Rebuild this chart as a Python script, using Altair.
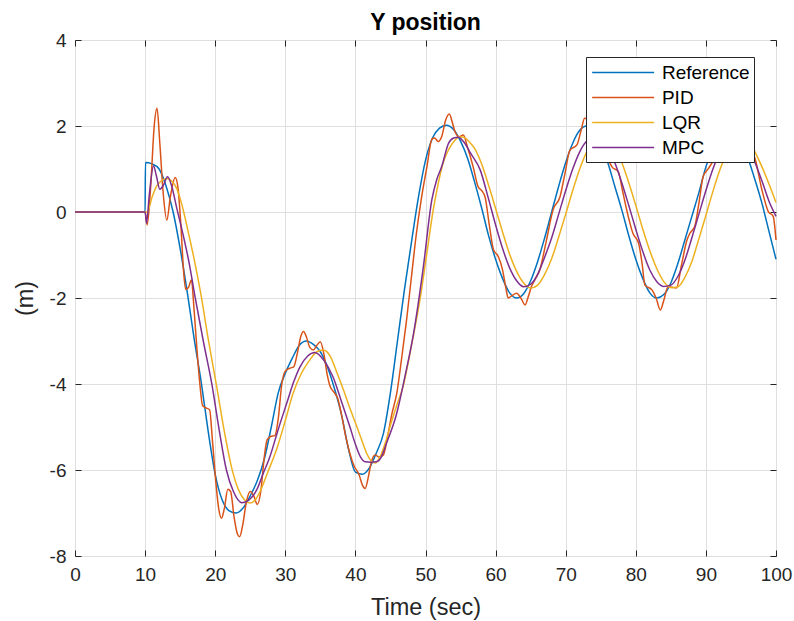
import altair as alt
import pandas as pd

# ---------------- data ----------------
series_names = ["Reference", "PID", "LQR", "MPC"]
series_colors = ["#0072BD", "#D95319", "#EDB120", "#7E2F8E"]
x_ticks = [0, 10, 20, 30, 40, 50, 60, 70, 80, 90, 100]
y_ticks = [-8, -6, -4, -2, 0, 2, 4]

ref_t = [0, 10, 10.05, 11, 12, 13, 14, 15, 16, 17, 18, 19, 20, 21, 22, 23, 24, 25,
         26, 27, 28, 29, 30, 31, 32, 33, 34, 35, 36, 37, 38, 39, 40, 41, 42, 43, 44,
         45, 46, 47, 48, 49, 50, 51, 52, 53, 54, 55, 56, 57, 58, 59, 60, 61, 62, 63,
         64, 65, 66, 67, 68, 69, 70, 71, 72, 73, 74, 75, 76, 77, 78, 79, 80, 81, 82,
         83, 84, 85, 86, 87, 88, 89, 90, 91, 92, 93, 94, 95, 96, 97, 98, 99, 100]
ref_y = [0, 0, 1.15, 1.12, 1.0, 0.6, 0.0, -0.85, -1.85, -2.95, -3.95, -5.1, -6.1, -6.7,
         -6.95, -7.0, -6.88, -6.6, -6.25, -5.75, -5.0, -4.2, -3.75, -3.4, -3.1, -3.0,
         -3.08, -3.25, -3.6, -4.1, -4.7, -5.5, -6.05, -6.1, -5.95, -5.6, -5.15, -4.2,
         -3.0, -1.8, -0.7, 0.35, 1.2, 1.72, 1.95, 2.02, 1.92, 1.65, 1.25, 0.7, 0.1,
         -0.55, -1.1, -1.55, -1.88, -2.0, -1.9, -1.6, -1.15, -0.6, 0.0, 0.6, 1.15, 1.6,
         1.9, 2.0, 1.9, 1.6, 1.15, 0.6, 0.05, -0.55, -1.1, -1.55, -1.88, -2.0, -1.92,
         -1.65, -1.2, -0.65, -0.1, 0.45, 1.05, 1.5, 1.85, 2.0, 1.92, 1.65, 1.25, 0.75,
         0.2, -0.45, -1.1]

pid_t = [0, 10, 10.3, 10.8, 11.3, 11.7, 12.1, 12.6, 13.1, 13.6, 14.3, 14.7, 15.1, 15.5,
         15.8, 16.2, 16.6, 17.0, 17.4, 17.8, 18.2, 18.6, 19.2, 19.6, 20.1, 20.5, 20.9,
         21.3, 21.8, 22.2, 22.7, 23.2, 23.5, 23.9, 24.5, 25.0, 25.5, 26.0, 26.5, 27.0,
         27.4, 27.9, 28.5, 29.0, 29.5, 30.0, 30.7, 31.2, 31.7, 32.2, 32.6, 33.0, 33.5,
         34.0, 34.5, 35.0, 35.5, 36.0, 36.4, 37.0, 37.5, 38.0, 38.6, 39.2, 39.8, 40.5,
         41.0, 41.4, 41.8, 42.3, 42.8, 43.4, 44.0, 44.5, 45.2, 45.9, 46.6, 47.3, 48.0,
         48.7, 49.4, 50.2, 50.9, 51.3, 51.8, 52.3, 52.9, 53.4, 53.8, 54.2, 54.8, 55.4,
         56.0, 56.8, 57.5, 58.0, 58.5, 59.1, 59.7, 60.4, 61.0, 61.5, 61.8, 62.3, 63.0,
         63.6, 64.2, 64.7, 65.1, 65.7, 66.3, 67.2, 68.2, 69.2, 69.9, 70.6, 71.6, 72.2,
         72.7, 73.2, 74.0, 75.0, 76.0, 76.6, 77.5, 78.1, 78.7, 79.6, 80.4, 80.9, 81.3,
         82.3, 82.9, 83.5, 84.0, 84.6, 85.2, 85.8, 86.5, 87.3, 87.7, 88.4, 89.0, 89.6,
         90.4, 91.1, 92.0, 93.0, 94.0, 95.0, 96.0, 97.0, 98.0, 98.9, 99.6, 100]
pid_y = [0, 0, -0.3, 0.6, 2.0, 2.41, 1.6, 0.4, -0.19, 0.35, 0.8, 0.55, -0.3, -1.4,
         -1.8, -1.75, -1.58, -2.3, -3.2, -3.98, -4.5, -4.55, -4.6, -5.3, -6.3, -6.9,
         -7.12, -6.9, -6.45, -6.5, -7.1, -7.5, -7.55, -7.3, -6.7, -6.5, -6.6, -6.8,
         -6.5, -5.7, -5.3, -5.22, -5.2, -4.8, -4.0, -3.7, -3.63, -3.6, -3.3, -2.9,
         -2.78, -2.9, -3.15, -3.21, -3.1, -3.02, -3.3, -3.8, -4.06, -4.2, -4.35, -4.7,
         -5.2, -5.61, -5.9, -6.1, -6.35, -6.43, -6.2, -5.8, -5.65, -5.7, -5.65, -5.3,
         -4.7, -4.22, -3.4, -2.51, -1.5, -0.5, 0.3, 1.05, 1.69, 1.72, 1.64, 1.75, 2.15,
         2.28, 2.1, 1.87, 1.75, 1.79, 1.5, 1.05, 0.59, 0.5, 0.35, -0.3, -0.88, -1.04,
         -1.35, -1.8, -2.0, -1.95, -1.89, -2.0, -2.16, -1.95, -1.74, -1.55, -1.35, -0.7,
         0.05, 0.36, 0.9, 1.44, 1.56, 1.9, 2.18, 2.15, 1.9, 1.6, 1.25, 1.05, 0.94, 0.5,
         0.05, -0.5, -0.73, -1.2, -1.7, -1.81, -2.0, -2.28, -2.05, -1.74, -1.75, -1.77,
         -1.25, -0.65, -0.5, -0.34, 0.2, 0.82, 1.02, 1.21, 1.6, 1.9, 1.95, 1.8, 1.55,
         1.25, 0.51, 0.01, -0.1, -0.65]

lqr_t = [0, 10, 10.3, 11, 11.6, 12.3, 13.1, 13.8, 14.5, 15.2, 16, 17, 18, 19,
         20.2, 21.3, 22.35, 23.3, 24.2, 25.0, 25.7, 26.4, 27.5, 28.8, 30.0, 31.1, 32.3,
         33.5, 34.5, 35.4, 36.4, 37.4, 38.3, 39.3, 40.2, 41.0, 41.6, 42.2, 42.8, 43.5,
         44.3, 45.2, 46.0, 46.8, 48.0, 49.2, 50.2, 51.1, 51.8, 52.5, 53.3, 54.1, 54.9,
         55.6, 56.3, 57, 58, 59, 60, 61, 62, 63, 64, 65, 66, 67, 68, 69, 70, 71, 72,
         73, 74, 75, 76, 77, 78, 79, 80, 81, 82, 83, 84, 85, 86, 87, 88, 89, 90, 91,
         92, 93, 94, 95, 96, 97, 98, 99, 100]
lqr_y = [0, 0, 0.0, 0.35, 0.59, 0.72, 0.78, 0.72, 0.55, 0.2, -0.35, -1.1, -1.95,
         -2.95, -4.05, -5.1, -5.95, -6.45, -6.7, -6.77, -6.7, -6.5, -6.05, -5.5, -4.85,
         -4.22, -3.75, -3.44, -3.25, -3.21, -3.35, -3.75, -4.14, -4.6, -4.99, -5.35,
         -5.61, -5.78, -5.84, -5.7, -5.35, -4.85, -4.45, -4.06, -3.1, -2.05, -0.95,
         0.05, 0.65, 1.13, 1.45, 1.65, 1.75, 1.73, 1.62, 1.48, 1.12, 0.62, 0.08, -0.47,
         -0.98, -1.38, -1.65, -1.77, -1.7, -1.45, -1.08, -0.58, -0.05, 0.5, 1.0, 1.4,
         1.66, 1.76, 1.7, 1.5, 1.15, 0.68, 0.15, -0.4, -0.9, -1.32, -1.62, -1.76, -1.74,
         -1.52, -1.15, -0.62, -0.08, 0.48, 0.98, 1.38, 1.65, 1.76, 1.7, 1.4, 1.05, 0.65,
         0.22]

mpc_t = [0, 10, 10.2, 10.6, 11.2, 11.6, 12.1, 12.6, 13.2, 13.8, 14.5, 15.45, 16.3, 17.1,
         18.3, 19.5, 20.6, 21.6, 22.6, 23.8, 24.8, 25.9, 26.8, 27.8, 29.0, 30.2, 31.2,
         32.1, 33.2, 34.2, 35.5, 36.8, 38.0, 39.2, 40.0, 40.7, 41.4, 42.2, 43.0, 43.5,
         44.5, 45.9, 47.1, 48.3, 49.7, 50.9, 51.6, 52.3, 53.3, 54.0, 54.7, 55.5, 56.5,
         57.8, 59, 60, 61, 62, 63, 64, 65, 66, 67, 68, 69, 70, 71, 72, 73, 74, 75, 76,
         77, 78, 79, 80, 81, 82, 83, 84, 85, 86, 87, 88, 89, 90, 91, 92, 93, 94, 95, 96,
         97, 98, 99, 100]
mpc_y = [0, 0, -0.26, 0.4, 1.07, 0.85, 0.53, 0.62, 0.82, 0.6, 0.1, -0.55, -1.2, -1.95,
         -3.0, -3.98, -5.1, -6.0, -6.5, -6.76, -6.7, -6.47, -6.1, -5.69, -5.05, -4.45,
         -3.95, -3.6, -3.35, -3.27, -3.45, -3.83, -4.4, -4.99, -5.4, -5.69, -5.81, -5.82,
         -5.81, -5.75, -5.35, -4.68, -3.8, -2.82, -1.27, 0.28, 0.75, 1.05, 1.6, 1.72,
         1.74, 1.62, 1.35, 0.98, 0.3, -0.3, -0.85, -1.3, -1.6, -1.74, -1.68, -1.45,
         -1.05, -0.6, -0.05, 0.5, 1.0, 1.4, 1.65, 1.74, 1.7, 1.5, 1.15, 0.68, 0.15, -0.4,
         -0.92, -1.35, -1.62, -1.73, -1.7, -1.5, -1.12, -0.6, -0.05, 0.5, 1.0, 1.4, 1.66,
         1.74, 1.7, 1.5, 1.15, 0.72, 0.25, -0.1]

# ---------------- table ----------------
rows = []
for name, ts, ys in [("Reference", ref_t, ref_y), ("PID", pid_t, pid_y),
                     ("LQR", lqr_t, lqr_y), ("MPC", mpc_t, mpc_y)]:
    for t, v in zip(ts, ys):
        rows.append({"t": t, "y": v, "series": name})
df = pd.DataFrame(rows)

FONT = "Liberation Sans"
TICK = 6
AX = "#262626"
minus_fix = "replace(datum.label, '\u2212', '-')"

x_scale = alt.Scale(domain=[0, 100], nice=False, zero=False)
y_scale = alt.Scale(domain=[-8, 4], nice=False, zero=False)

main = alt.Chart(df).mark_line(strokeWidth=1.5, interpolate="monotone").encode(
    x=alt.X("t:Q", scale=x_scale,
            axis=alt.Axis(orient="bottom", values=x_ticks, title="Time (sec)",
                          grid=True, domain=False, offset=-TICK, tickSize=TICK,
                          labelFlush=False, labelPadding=9, titlePadding=11,
                          labelExpr=minus_fix)),
    y=alt.Y("y:Q", scale=y_scale,
            axis=alt.Axis(orient="left", values=y_ticks, title="(m)",
                          grid=True, domain=False, offset=-TICK, tickSize=TICK,
                          labelFlush=False, labelPadding=9, titlePadding=12,
                          labelExpr=minus_fix)),
    color=alt.Color("series:N",
                    scale=alt.Scale(domain=series_names, range=series_colors),
                    legend=alt.Legend(title=None, orient="none", legendX=511, legendY=17,
                                      fillColor="white", strokeColor=AX, padding=4,
                                      rowPadding=3, symbolType="M-3,0H3", symbolSize=427,
                                      symbolStrokeWidth=1.5, symbolOffset=21.65,
                                      labelOffset=27.3, labelFontSize=19, labelFont=FONT,
                                      labelColor="black", cornerRadius=0)),
)

frame = alt.Chart(df).mark_line(opacity=0).encode(
    x=alt.X("t:Q", scale=x_scale,
            axis=alt.Axis(orient="top", values=x_ticks, title=None, labels=False,
                          grid=False, domain=False, offset=-TICK, tickSize=TICK)),
    y=alt.Y("y:Q", scale=y_scale,
            axis=alt.Axis(orient="right", values=y_ticks, title=None, labels=False,
                          grid=False, domain=False, offset=-TICK, tickSize=TICK)),
    detail="series:N",
)

chart = alt.layer(main, frame).resolve_axis(x="independent", y="independent").properties(
    width=701, height=516,
    autosize=alt.AutoSizeParams(type="none"),
    padding={"left": 75, "top": 40, "right": 18, "bottom": 65},
    title=alt.Title("Y position", anchor="middle", frame="group", offset=0, dy=4,
                    fontSize=23, font=FONT, fontWeight="bold", color="black"),
).configure_view(stroke=AX, strokeWidth=1).configure_axis(
    labelFont=FONT, labelFontSize=19, labelColor=AX,
    titleFont=FONT, titleFontSize=23.5, titleColor=AX, titleFontWeight="normal",
    gridColor="#DFDFDF", gridWidth=1, tickColor=AX, tickWidth=1,
)

chart.save("out.html", embed_options={"renderer": "svg", "actions": False})
